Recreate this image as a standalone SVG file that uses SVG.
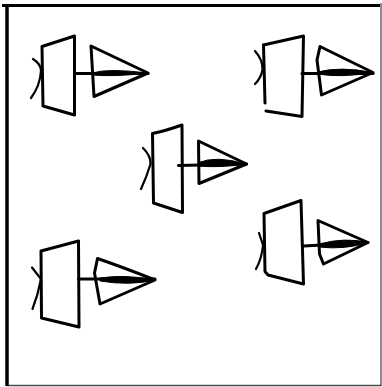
<svg xmlns="http://www.w3.org/2000/svg" width="382" height="387" viewBox="0 0 382 387">
<style>
.s{fill:none;stroke:#000;stroke-width:3;stroke-linecap:round;stroke-linejoin:round}
.t{fill:none;stroke:#000;stroke-width:2.2;stroke-linecap:round}
.l{fill:#000;stroke:#000;stroke-width:1;stroke-linejoin:round}
.f{fill:none;stroke:#000}
</style>
<rect width="382" height="387" fill="#fff"/>
<g id="frame">
<path class="f" stroke-width="3.5" d="M7 5V386"/>
<path class="f" stroke-width="3" d="M2 5.500H380"/>
<path class="f" stroke-width="1.500" stroke-opacity="0.700" d="M7 385.500H381"/>
<path class="f" stroke-width="1.500" stroke-opacity="0.600" d="M381 3V386"/>
</g>
<g id="connectors"></g>
<g id="n1">
<path class="s" d="M42 46.500L74.500 36L74.500 115L43 106Z"/>
<path class="t" d="M33 59Q41 64 41 71Q40 86 31 98"/>
<path class="s" d="M94 96.500L91 46L148 73Z"/>
<path class="s" d="M75 73.500H148"/>
<path class="l" d="M92 73Q108 68 148 73Q115 77 92 75Z"/>
</g>
<g id="n2">
<path class="s" d="M263.500 45L303.500 36L302 116.500L266 111"/>
<path class="s" d="M263.500 45L265 103"/>
<path class="t" d="M255 51Q263 60 262.500 70Q261 78 255 84"/>
<path class="s" d="M321.500 95L317 60L320 46.500L373 72.500Z"/>
<path class="s" d="M302 73.500H373"/>
<path class="l" d="M318 72Q340 66 373 72.500Q340 78 318 74Z"/>
</g>
<g id="n3">
<path class="s" d="M152.500 133.500Q165 131 182 125L182.500 212.500L153.500 203L152.500 133.500"/>
<path class="t" d="M143 148Q151 156 150.500 164Q147 176 141 189"/>
<path class="s" d="M199 183.500L198.500 141L246.500 164Z"/>
<path class="s" d="M178.500 165.500L246.500 164"/>
<path class="l" d="M198 163Q215 155 246.500 164Q220 168 198 166Z"/>
</g>
<g id="n4">
<path class="s" d="M41 251L78.500 241L79 327L41.500 318Z"/>
<path class="t" d="M32 267.500L41 279Q38 295 32.500 309"/>
<path class="s" d="M100 304L94.500 273L97.500 258.500Q125 268 155 280Z"/>
<path class="s" d="M78.500 279H155"/>
<path class="l" d="M100 278Q125 274 155 280Q130 286 100 281Z"/>
</g>
<g id="n5">
<path class="s" d="M264 213.500L301 200.500L303.500 284L268 275L265 271.500Z"/>
<path class="t" d="M259 233L263 245Q262 258 256 269"/>
<path class="s" d="M318 220.500L368 242.500L323.500 264L319.500 254L318 220.500Z"/>
<path class="s" d="M303.500 246L368 242.500"/>
<path class="l" d="M319 244Q345 237 368 242.500Q345 250 319 247Z"/>
</g>
</svg>
